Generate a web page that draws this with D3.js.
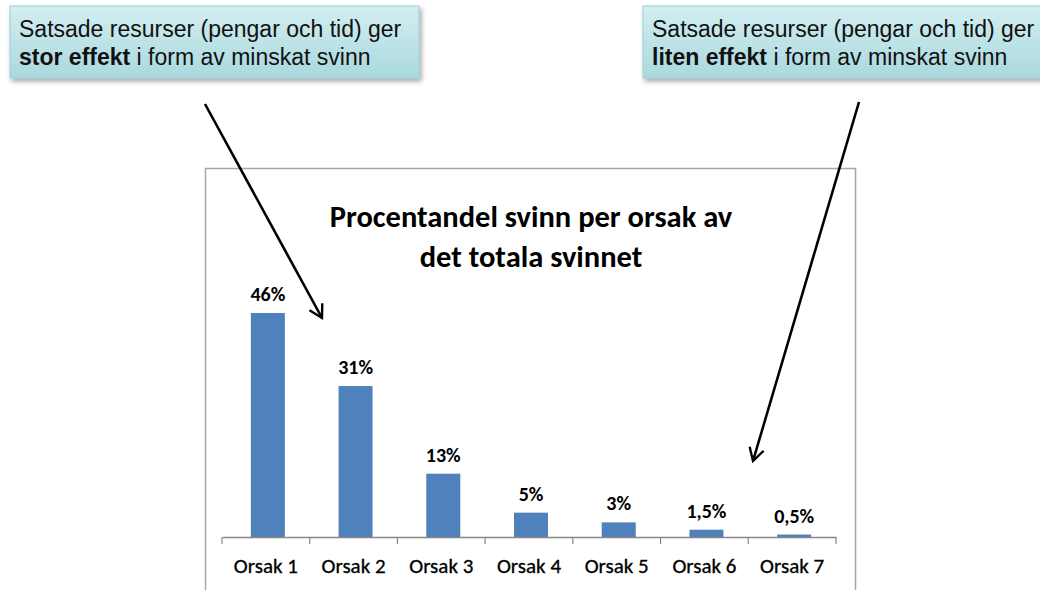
<!DOCTYPE html>
<html lang="sv">
<head>
<meta charset="UTF-8">
<title>Procentandel svinn per orsak</title>
<script src="https://d3js.org/d3.v7.min.js"></script>
<style>
  body {margin:0; background:#fff;}
  svg {display:block;}
</style>
</head>
<body>
<div id="chart"></div>
<script>
// data
var categories = ["Orsak 1","Orsak 2","Orsak 3","Orsak 4","Orsak 5","Orsak 6","Orsak 7"];
var values = [46, 31, 13, 5, 3, 1.5, 0.5];
var valueLabels = ["46%","31%","13%","5%","3%","1,5%","0,5%"];
var titleLines = ["Procentandel svinn per orsak av", "det totala svinnet"];
var calloutLeft = ["Satsade resurser (pengar och tid) ger", "stor effekt", " i form av minskat svinn"];
var calloutRight = ["Satsade resurser (pengar och tid) ger", "liten effekt", " i form av minskat svinn"];

var W = 1040, H = 590;
var chartFont = "Carlito, Calibri, Lato, 'Open Sans', sans-serif";
var boxFont = "'Liberation Sans', Arial, sans-serif";

var svg = d3.select("#chart").append("svg")
    .attr("width", W)
    .attr("height", H);

var defs = svg.append("defs");

var grad = defs.append("linearGradient")
    .attr("id", "boxgrad")
    .attr("x1", 0).attr("y1", 0).attr("x2", 0).attr("y2", 1);
grad.append("stop").attr("offset", "0%").attr("stop-color", "#d3eef1");
grad.append("stop").attr("offset", "100%").attr("stop-color", "#a9d9de");

var shadow = defs.append("filter").attr("id", "shadow")
    .attr("x", "-5%").attr("y", "-10%").attr("width", "115%").attr("height", "140%");
shadow.append("feDropShadow")
    .attr("dx", 2).attr("dy", 3).attr("stdDeviation", 2.5)
    .attr("flood-color", "#000").attr("flood-opacity", 0.35);

defs.append("marker")
    .attr("id", "head")
    .attr("viewBox", "0 0 20 20")
    .attr("refX", 17).attr("refY", 10)
    .attr("markerWidth", 7).attr("markerHeight", 7)
    .attr("markerUnits", "strokeWidth")
    .attr("orient", "auto")
    .append("path")
    .attr("d", "M3,2 L17,10 L3,18")
    .attr("fill", "none")
    .attr("stroke", "#000")
    .attr("stroke-width", 2.6)
    .attr("stroke-linejoin", "miter");

// chart frame
svg.append("rect")
    .attr("x", 205.5).attr("y", 168.5)
    .attr("width", 650).attr("height", 460)
    .attr("fill", "#fff")
    .attr("stroke", "#a6a6a6")
    .attr("stroke-width", 1.5);

// title
svg.append("text")
    .attr("x", 531).attr("y", 227)
    .attr("text-anchor", "middle")
    .attr("font-family", chartFont)
    .attr("font-weight", "bold")
    .attr("font-size", "30.5px")
    .attr("fill", "#000")
    .selectAll("tspan").data(titleLines).enter().append("tspan")
    .attr("x", 531)
    .attr("dy", function(d, i) { return i == 0 ? 0 : 40; })
    .text(function(d) { return d; });

// scales
var x = d3.scaleBand().domain(categories).range([222, 836]).padding(0);
var y = d3.scaleLinear().domain([0, 50]).range([537, 293.5]);
var barW = 34;

svg.selectAll("rect.bar").data(values).enter().append("rect")
    .attr("class", "bar")
    .attr("x", function(d, i) { return x(categories[i]) + x.bandwidth() / 2 - barW / 2 + 2; })
    .attr("y", function(d) { return y(d); })
    .attr("width", barW)
    .attr("height", function(d) { return y(0) - y(d); })
    .attr("fill", "#4f81bd");

svg.selectAll("text.val").data(values).enter().append("text")
    .attr("class", "val")
    .attr("x", function(d, i) { return x(categories[i]) + x.bandwidth() / 2 + 2; })
    .attr("y", function(d) { return y(d) - 12; })
    .attr("text-anchor", "middle")
    .attr("font-family", chartFont)
    .attr("font-weight", "bold")
    .attr("font-size", "20px")
    .attr("fill", "#000")
    .text(function(d, i) { return valueLabels[i]; });

// axis
var xAxis = d3.axisBottom(x).tickSize(0).tickPadding(21);
var ax = svg.append("g")
    .attr("transform", "translate(0,537)")
    .call(xAxis);
ax.select(".domain").attr("stroke", "#878787").attr("stroke-width", 1.5);
ax.selectAll(".tick text")
    .attr("font-family", chartFont)
    .attr("font-size", "21px")
    .attr("fill", "#000")
    .attr("stroke", "#000")
    .attr("stroke-width", 0.3);

// tick marks between the categories
var edges = categories.map(function(c) { return x(c); }).concat([x.range()[1]]);
ax.selectAll("line.sep").data(edges).enter().append("line")
    .attr("class", "sep")
    .attr("x1", function(d) { return d; }).attr("x2", function(d) { return d; })
    .attr("y1", 0).attr("y2", 7)
    .attr("stroke", "#878787")
    .attr("stroke-width", 1.2);

// callout boxes
function callout(bx, lines) {
    var g = svg.append("g");
    g.append("rect")
        .attr("x", bx).attr("y", 6)
        .attr("width", 409).attr("height", 72)
        .attr("fill", "url(#boxgrad)")
        .attr("stroke", "#9ccfd4")
        .attr("stroke-width", 1)
        .attr("filter", "url(#shadow)");
    g.append("text")
        .attr("x", bx + 9).attr("y", 37)
        .attr("font-family", boxFont)
        .attr("font-size", "23px")
        .attr("fill", "#111")
        .text(lines[0]);
    var t = g.append("text")
        .attr("x", bx + 9).attr("y", 65)
        .attr("font-family", boxFont)
        .attr("font-size", "23px")
        .attr("fill", "#111");
    t.append("tspan").attr("font-weight", "bold").text(lines[1]);
    t.append("tspan").text(lines[2]);
}
callout(10, calloutLeft);
callout(643, calloutRight);

// arrows
var arrows = [[205, 104, 322, 318], [859, 102, 753, 461]];
svg.selectAll("line.arrow").data(arrows).enter().append("line")
    .attr("class", "arrow")
    .attr("x1", function(d) { return d[0]; })
    .attr("y1", function(d) { return d[1]; })
    .attr("x2", function(d) { return d[2]; })
    .attr("y2", function(d) { return d[3]; })
    .attr("stroke", "#000")
    .attr("stroke-width", 2.6)
    .attr("marker-end", "url(#head)");
</script>
</body>
</html>
